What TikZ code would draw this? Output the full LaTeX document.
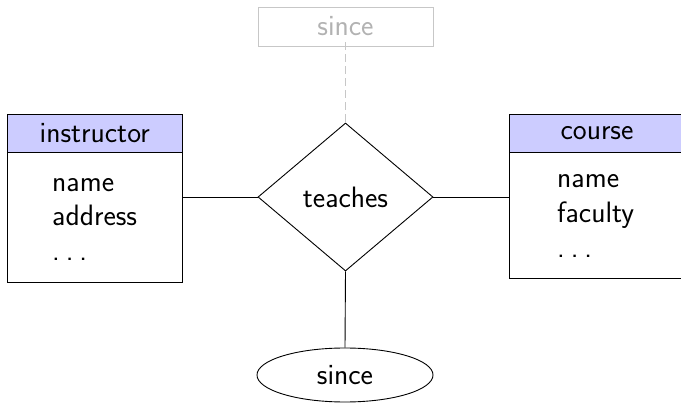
\documentclass[tikz,border=0pt]{standalone}
\usetikzlibrary{shapes.geometric}
\newcommand{\ellip}{.\hspace{0.2em}.\hspace{0.2em}.}
\begin{document}
\begin{tikzpicture}[x=1pt,y=-1pt,
  every node/.style={font=\sffamily\fontsize{29.5}{34}\selectfont, inner sep=0pt},
  hdr/.style={draw, line width=0.9pt, fill=blue!20, minimum width=174.5pt, minimum height=38pt},
  bodybox/.style={draw, line width=0.9pt, fill=white, minimum width=174.5pt},
  attr/.style={anchor=base west},
  rel/.style={draw, line width=0.9pt, shape=diamond, minimum width=175pt, minimum height=148pt},
  attrib/.style={draw, line width=0.9pt, shape=ellipse, minimum width=176pt, minimum height=54pt},
  ghost/.style={draw=black!22, line width=0.9pt, text=black!30, minimum width=175pt, minimum height=39pt},
  link/.style={line width=0.9pt},
  ghostlink/.style={draw=black!22, line width=0.9pt, dash pattern=on 8pt off 4pt}
]
\useasboundingbox (0,0) rectangle (681,403);

% entity: instructor
\node[hdr] (ihead) at (94.75,133) {instructor};
\node[bodybox, minimum height=130pt, anchor=north] (ibody) at (ihead.south) {};
\node[attr] (i1) at (52,192) {name};
\node[attr] (i2) at (52,226) {address};
\node[attr] (i3) at (52,261) {\ellip};

% entity: course
\node[hdr] (chead) at (597,133) {course};
\node[bodybox, minimum height=126pt, anchor=north] (cbody) at (chead.south) {};
\node[attr] (c1) at (557,188) {name};
\node[attr] (c2) at (557,223) {faculty};
\node[attr] (c3) at (557,258) {\ellip};

% relationship
\node[rel] (teach) at (345.5,197) {teaches};

% attribute of the relationship
\node[attrib] (since) at (345,375) {since};
\node[ghost] (sincebox) at (345.5,26.5) {since};

% connectors
\draw[link] (ibody.east |- teach.west) -- (teach.west);
\draw[link] (teach.east) -- (cbody.west |- teach.east);
\draw[link] (teach.south) -- (since.north);
\draw[ghostlink] ([yshift=4pt]sincebox.south) -- ([yshift=-2pt]teach.north);
\end{tikzpicture}
\end{document}
